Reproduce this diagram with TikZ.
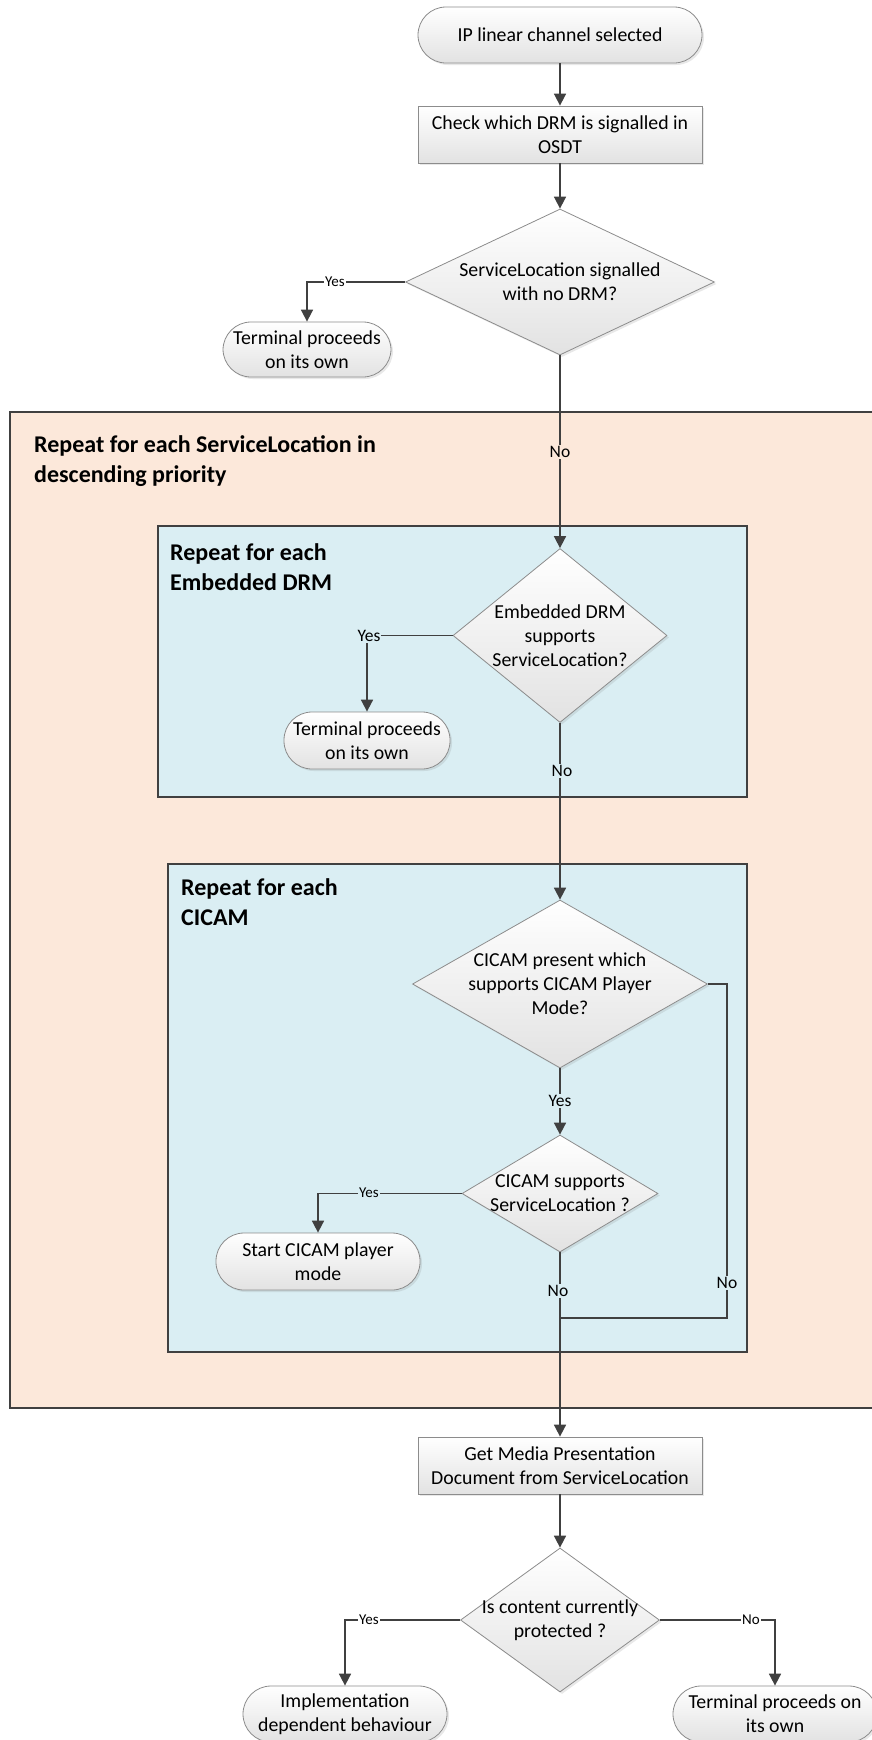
\documentclass[tikz,border=0pt]{standalone}
\usepackage{fontspec}
\setmainfont{Carlito}
\usetikzlibrary{shapes.geometric,arrows.meta,shadows,calc}
\definecolor{conncol}{HTML}{404040}
\definecolor{orangebg}{HTML}{FCE8DA}
\definecolor{bluebg}{HTML}{DAEEF3}
\definecolor{nodeborder}{HTML}{8C8C8C}
\definecolor{shadebot}{HTML}{E2E2E2}
\begin{document}
\begin{tikzpicture}[x=1pt,y=-1pt,
 base/.style={draw=nodeborder, line width=0.8pt, top color=white, bottom color=shadebot,
   inner sep=0pt, font=\fontsize{19.8}{24}\selectfont, align=center,
   drop shadow={shadow xshift=2pt,shadow yshift=-2pt,opacity=0.18}},
 term/.style={base, rectangle, rounded corners=28pt},
 proc/.style={base, rectangle},
 dec/.style={base, diamond},
 dtext/.style={font=\fontsize{19.8}{24}\selectfont, align=center, inner sep=0pt},
 conn/.style={draw=conncol, line width=1.7pt, -{Triangle[length=12pt,width=12pt]}},
 plain/.style={draw=conncol, line width=1.7pt},
 lbl/.style={inner sep=1pt, font=\fontsize{15}{15}\selectfont},
 lblb/.style={inner sep=1pt, font=\fontsize{17.5}{17.5}\selectfont},
 cont/.style={draw=conncol, line width=1.6pt},
 ttl/.style={font=\bfseries\fontsize{24}{30.5}\selectfont, align=left, anchor=north west, inner sep=0pt}
]
\useasboundingbox (0,0) rectangle (871,1740);

% containers
\draw[cont, fill=orangebg] (10,412) rectangle (900,1408);
\node[ttl] (title1) at (34,435) {Repeat for each ServiceLocation in\\descending priority};
\draw[cont, fill=bluebg] (158,526) rectangle (747,797);
\node[ttl] (title2) at (170,543) {Repeat for each\\Embedded DRM};
\draw[cont, fill=bluebg] (168,864) rectangle (747,1352);
\node[ttl] (title3) at (181,878) {Repeat for each\\CICAM};

% nodes
\node[term, minimum width=284pt, minimum height=56pt] (start) at (560,35) {IP linear channel selected};
\node[proc, minimum width=284pt, minimum height=57pt] (box1) at (560,134.5) {Check which DRM is signalled in\\OSDT};
\node[dec, minimum width=309pt, minimum height=146pt,
  label={[dtext]center:{ServiceLocation signalled\\with no DRM?}}] (d1) at (560,282) {};
\node[term, minimum width=168pt, minimum height=55pt] (t1) at (307,349.5) {Terminal proceeds\\on its own};

\node[dec, minimum width=214pt, minimum height=174pt,
  label={[dtext]center:{Embedded DRM\\supports\\ServiceLocation?}}] (d2) at (560,635.5) {};
\node[term, minimum width=166pt, minimum height=57pt] (t2) at (367,740.5) {Terminal proceeds\\on its own};

\node[dec, minimum width=295pt, minimum height=168pt,
  label={[dtext]center:{CICAM present which\\supports CICAM Player\\Mode?}}] (d3) at (560,984) {};
\node[dec, minimum width=196pt, minimum height=117pt,
  label={[dtext]center:{CICAM supports\\ServiceLocation ?}}] (d4) at (560,1193.5) {};
\node[term, minimum width=204pt, minimum height=57pt] (t3) at (318,1261.5) {Start CICAM player\\mode};

\node[proc, minimum width=284pt, minimum height=57pt] (box2) at (560,1465.5) {Get Media Presentation\\Document from ServiceLocation};
\node[dec, minimum width=199pt, minimum height=144pt,
  label={[dtext]center:{Is content currently\\protected ?}}] (d5) at (560,1620) {};
\node[term, minimum width=204pt, minimum height=56pt] (tl) at (345,1714) {Implementation\\dependent behaviour};
\node[term, minimum width=204pt, minimum height=56pt] (tr) at (775,1714) {Terminal proceeds on\\its own};

% connectors
\coordinate (m) at (560,1318);
\coordinate (nr) at (727,1318);
\draw[conn] (start) -- (box1);
\draw[conn] (box1) -- (d1);
\draw[conn] (d1.west) -| (t1.north);
\draw[conn] (d1.south) -- (d2.north);
\draw[conn] (d2.west) -| (t2.north);
\draw[conn] (d2.south) -- (d3.north);
\draw[conn] (d3.south) -- (d4.north);
\draw[conn] (d4.west) -| (t3.north);
\draw[plain] (d3.east) -| (nr) -- (m);
\draw[conn] (d4.south) -- (box2.north);
\draw[conn] (box2) -- (d5);
\draw[conn] (d5.west) -| (tl.north);
\draw[conn] (d5.east) -| (tr.north);

% labels
\node[lbl, fill=white] (l1) at (335,282) {Yes};
\node[lblb, fill=orangebg] (l2) at (560,452) {No};
\node[lblb, fill=bluebg] (l3) at (369,636) {Yes};
\node[lblb, fill=bluebg] (l4) at (562,771) {No};
\node[lblb, fill=bluebg] (l5) at (560,1101) {Yes};
\node[lblb, fill=bluebg] (l6) at (727,1283) {No};
\node[lbl, fill=bluebg] (l7) at (369,1193) {Yes};
\node[lblb, fill=bluebg] (l8) at (558,1291) {No};
\node[lbl, fill=white] (l9) at (369,1620) {Yes};
\node[lbl, fill=white] (l10) at (751,1620) {No};
\end{tikzpicture}
\end{document}
